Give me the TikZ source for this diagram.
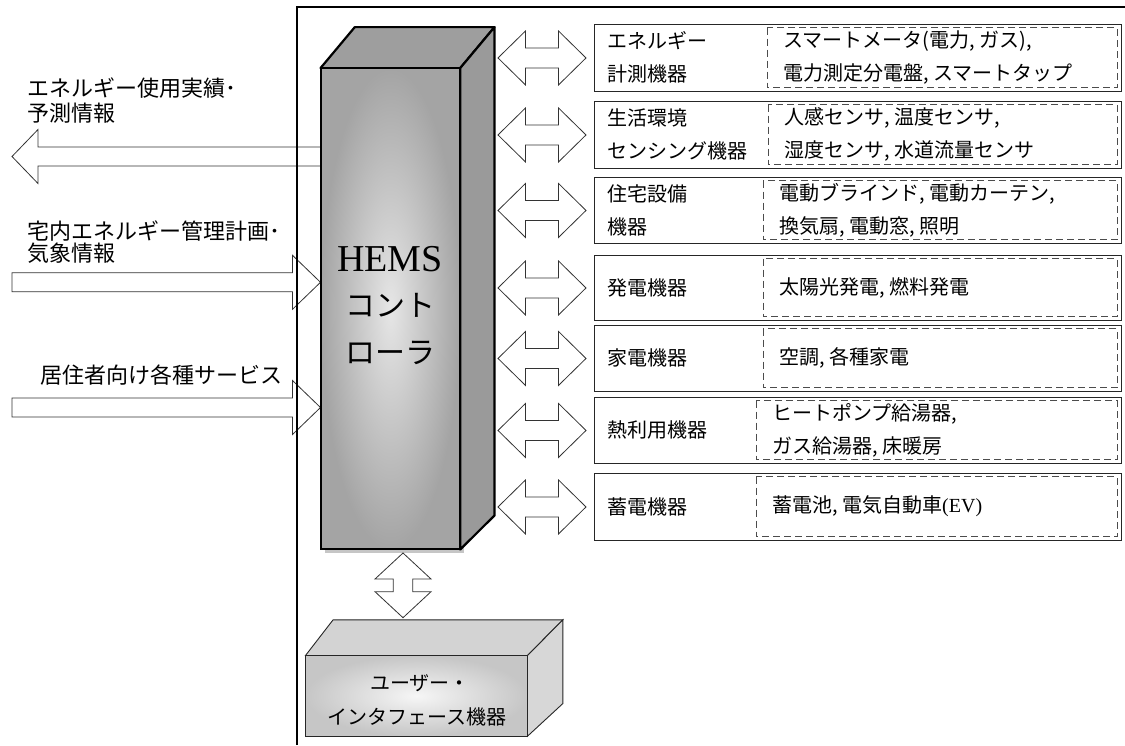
\documentclass[tikz,border=0pt]{standalone}
\usepackage{fontspec}
\setmainfont{Noto Sans CJK JP}
\newfontfamily\serif{Liberation Serif}
\usetikzlibrary{calc}
\definecolor{edge}{HTML}{333333}
\definecolor{hemsTop}{HTML}{9E9E9E}
\definecolor{hemsSide}{HTML}{9A9A9A}
\definecolor{hemsIn}{HTML}{E6E6E6}
\definecolor{hemsOut}{HTML}{A4A4A4}
\definecolor{uiTop}{HTML}{D3D3D3}
\definecolor{uiSide}{HTML}{D7D7D7}
\definecolor{uiIn}{HTML}{F6F6F6}
\definecolor{uiOut}{HTML}{C6C6C6}
% horizontal double arrow from coordinate (hr) to the west side of a row box
\newcommand\dblH[1]{%
  \draw[blkarrow] let \p1=(hr), \p2=(#1.west) in
    (\x1,\y2) -- (\x1+27.5pt,\y2+27pt) -- (\x1+27.5pt,\y2+10pt) -- (\x2-35.5pt,\y2+10pt)
    -- (\x2-35.5pt,\y2+27pt) -- (\x2-8pt,\y2) -- (\x2-35.5pt,\y2-27pt) -- (\x2-35.5pt,\y2-10pt)
    -- (\x1+27.5pt,\y2-10pt) -- (\x1+27.5pt,\y2-27pt) -- cycle;}
% right-pointing block arrow from a free coordinate to the HEMS front face
\newcommand\inArrow[1]{%
  \draw[blkarrow] let \p1=(#1), \p2=(hems.west) in
    (\x1,\y1+9.5pt) -- (\x2-28pt,\y1+9.5pt) -- (\x2-28pt,\y1+27pt) -- (\x2,\y1)
    -- (\x2-28pt,\y1-27pt) -- (\x2-28pt,\y1-9.5pt) -- (\x1,\y1-9.5pt) -- cycle;}
% one row: name, top, bottom, dashed-left, label, content
\newcommand\rowbox[6]{%
  \node[rowframe, minimum height={#3-#2}] (#1) at (594,#2) {};
  \draw[dbox] (#4,#2+3.5) rectangle (1117,#3-3.5);
  \node[boxtext] (#1-lab) at (607,{(#2+#3)/2}) {#5};
  \node[boxtext] (#1-con) at (#4+16,{(#2+#3)/2}) {#6};}
\begin{document}
\begin{tikzpicture}[x=1pt,y=-1pt,
  blkarrow/.style={draw=edge, line width=0.8pt, fill=white, line join=miter},
  rowframe/.style={draw=black!85, line width=0.9pt, fill=white, inner sep=0pt,
    anchor=north west, minimum width=527pt},
  dbox/.style={draw=black!70, line width=0.8pt, dash pattern=on 7pt off 4pt},
  boxtext/.style={anchor=west, align=left, inner sep=0pt, font=\fontsize{20}{33}\selectfont},
  lefttext/.style={anchor=west, align=left, inner sep=0pt},
  ]
\useasboundingbox (0,0) rectangle (1125,745);

% ---- HEMS controller (front face as named node) ----
\node[minimum width=139.3pt, minimum height=481pt, inner sep=0pt] (hems) at (390.35,308.8) {};

% left block arrows (drawn first, HEMS covers their ends)
\coordinate (o1) at (12,156.5);
\draw[blkarrow] let \p1=(o1), \p2=(hems.west) in
  (\x1,\y1) -- (\x1+26pt,\y1+27pt) -- (\x1+26pt,\y1+9.5pt) -- (\x2+3pt,\y1+9.5pt)
  -- (\x2+3pt,\y1-9.5pt) -- (\x1+26pt,\y1-9.5pt) -- (\x1+26pt,\y1-27pt) -- cycle;
\coordinate (i1) at (12,282.3);
\coordinate (i2) at (12,407.5);
\inArrow{i1}
\inArrow{i2}

% shadow, top and right faces
\fill[gray!45] ($(hems.south west)+(4,3)$) rectangle ($(hems.north east)+(4,3)$);
\filldraw[fill=hemsTop, line width=2.2pt, line join=round]
  (hems.north west) -- ++(34.3,-41) -- ($(hems.north east)+(34.3,-41)$) -- (hems.north east) -- cycle;
\filldraw[fill=hemsSide, line width=2.2pt, line join=round]
  (hems.north east) -- ++(34.3,-41) -- ($(hems.south east)+(34.3,-34)$) -- (hems.south east) -- cycle;
\node[draw, line width=2.2pt, minimum width=139.3pt, minimum height=481pt, inner sep=0pt,
  inner color=hemsIn, outer color=hemsOut] at (hems.center) {};
\node[font=\serif\fontsize{38}{38}\selectfont, inner sep=0pt] (hemsA) at (390,259.5) {HEMS};
\node[font=\fontsize{30}{30}\selectfont, inner sep=0pt] (hemsB) at (390,305) {コント};
\node[font=\fontsize{30}{30}\selectfont, inner sep=0pt] (hemsC) at (390,353) {ローラ};

% outer frame
\coordinate (fb) at (297,745);
\coordinate (fc) at (297,7);
\coordinate (fr) at (1125,7);
\draw[line width=2pt] (fb) -- (fc) -- (fr);

% left labels
\node[lefttext, font=\fontsize{22}{25}\selectfont] (t1) at (27,100.5) {エネルギー使用実績･\\予測情報};
\node[lefttext, font=\fontsize{22}{19}\selectfont] (t2) at (27,242) {宅内エネルギー管理計画･\\気象情報};
\node[lefttext, font=\fontsize{22}{22}\selectfont] (t3) at (40,375) {居住者向け各種サービス};

% ---- right rows ----
\rowbox{r1}{24}{91}{767}{エネルギー\\計測機器}{スマートメータ(電力, ガス),\\電力測定分電盤, スマートタップ}
\rowbox{r2}{101}{168}{768}{生活環境\\センシング機器}{人感センサ, 温度センサ,\\湿度センサ, 水道流量センサ}
\rowbox{r3}{177}{243}{763}{住宅設備\\機器}{電動ブラインド, 電動カーテン,\\換気扇, 電動窓, 照明}
\rowbox{r4}{255}{320}{763}{発電機器}{太陽光発電, 燃料発電}
\rowbox{r5}{325}{391}{763}{家電機器}{空調, 各種家電}
\rowbox{r6}{397}{463}{756}{熱利用機器}{ヒートポンプ給湯器,\\ガス給湯器, 床暖房}
\rowbox{r7}{473}{540}{756}{蓄電機器}{蓄電池, 電気自動車{\serif (EV)}}

\coordinate (hr) at (498,0);
\dblH{r1}\dblH{r2}\dblH{r3}\dblH{r4}\dblH{r5}\dblH{r6}\dblH{r7}

% ---- user interface box ----
\node[minimum width=221.6pt, minimum height=80.3pt, inner sep=0pt] (ui) at (416.5,695.85) {};
\filldraw[fill=uiTop, draw=black!85, line width=0.9pt]
  (ui.north west) -- ++(27.6,-35.7) -- ($(ui.north east)+(35.4,-35.7)$) -- (ui.north east) -- cycle;
\filldraw[fill=uiSide, draw=black!85, line width=0.9pt]
  (ui.north east) -- ++(35.4,-35.7) -- ($(ui.south east)+(35.4,-32.7)$) -- (ui.south east) -- cycle;
\node[draw=black!85, line width=0.9pt, minimum width=221.6pt, minimum height=80.3pt, inner sep=0pt,
  inner color=uiIn, outer color=uiOut] at (ui.center) {};
\node[font=\fontsize{20}{20}\selectfont, inner sep=0pt] (uiA) at (420,683.3) {ユーザー・};
\node[font=\fontsize{20}{20}\selectfont, inner sep=0pt] (uiB) at (416.5,716.7) {インタフェース機器};

% vertical double arrow between HEMS and UI box
\coordinate (vt) at (403,553);
\coordinate (vb) at (403,617.7);
\draw[blkarrow] let \p1=(vt), \p2=(vb) in
  (\x1,\y1) -- (\x1+28pt,\y1-26pt) -- (\x1+9.7pt,\y1-26pt) -- (\x1+9.7pt,\y2+26pt)
  -- (\x1+28pt,\y2+26pt) -- (\x2,\y2) -- (\x1-28pt,\y2+26pt) -- (\x1-9.7pt,\y2+26pt)
  -- (\x1-9.7pt,\y1-26pt) -- (\x1-28pt,\y1-26pt) -- cycle;
\end{tikzpicture}
\end{document}
